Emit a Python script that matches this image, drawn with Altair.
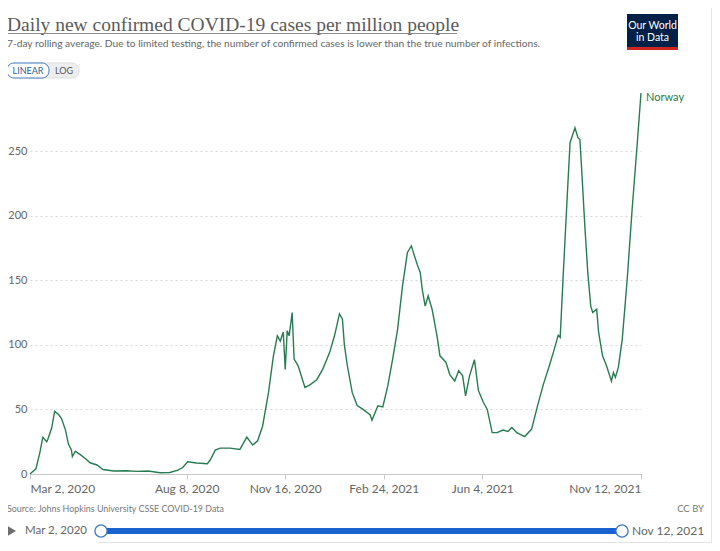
import altair as alt
import pandas as pd

# ---------------- data ----------------
dates = [
    "2020-03-02", "2020-03-08", "2020-03-12", "2020-03-15", "2020-03-19", "2020-03-20",
    "2020-03-24", "2020-03-27", "2020-03-31", "2020-04-03", "2020-04-07", "2020-04-10",
    "2020-04-13", "2020-04-14", "2020-04-17", "2020-04-22", "2020-04-27", "2020-05-02",
    "2020-05-09", "2020-05-15", "2020-05-26", "2020-06-08", "2020-06-18", "2020-06-30",
    "2020-07-12", "2020-07-22", "2020-07-30", "2020-08-04", "2020-08-09", "2020-08-18",
    "2020-08-29", "2020-09-01", "2020-09-06", "2020-09-11", "2020-09-21", "2020-10-01",
    "2020-10-08", "2020-10-14", "2020-10-19", "2020-10-24", "2020-10-30", "2020-11-04",
    "2020-11-08", "2020-11-11", "2020-11-14", "2020-11-16", "2020-11-18", "2020-11-20",
    "2020-11-23", "2020-11-25", "2020-11-29", "2020-12-06", "2020-12-11", "2020-12-18",
    "2020-12-24", "2020-12-31", "2021-01-05", "2021-01-10", "2021-01-13", "2021-01-15",
    "2021-01-18", "2021-01-23", "2021-01-28", "2021-02-03", "2021-02-10", "2021-02-12",
    "2021-02-18", "2021-02-23", "2021-02-28", "2021-03-05", "2021-03-10", "2021-03-15",
    "2021-03-20", "2021-03-24", "2021-03-26", "2021-03-30", "2021-04-02", "2021-04-04",
    "2021-04-07", "2021-04-10", "2021-04-14", "2021-04-19", "2021-04-22", "2021-04-28",
    "2021-05-02", "2021-05-07", "2021-05-11", "2021-05-15", "2021-05-18", "2021-05-22",
    "2021-05-27", "2021-05-31", "2021-06-05", "2021-06-09", "2021-06-14", "2021-06-19",
    "2021-06-25", "2021-06-30", "2021-07-04", "2021-07-09", "2021-07-17", "2021-07-24",
    "2021-07-30", "2021-08-05", "2021-08-11", "2021-08-15", "2021-08-20", "2021-08-22",
    "2021-08-25", "2021-08-29", "2021-09-01", "2021-09-06", "2021-09-09", "2021-09-11",
    "2021-09-13", "2021-09-16", "2021-09-19", "2021-09-22", "2021-09-24", "2021-09-28",
    "2021-09-30", "2021-10-04", "2021-10-08", "2021-10-13", "2021-10-15", "2021-10-17",
    "2021-10-20", "2021-10-24", "2021-10-29", "2021-11-03", "2021-11-08", "2021-11-12",
]
cases = [
    0, 4, 16.6, 28.5, 25, 26.7,
    35.6, 48.6, 46, 43, 34, 23.2,
    18.6, 13.5, 17.6, 15, 12, 8.7,
    7, 3.5, 2.3, 2.5, 2, 2.3,
    1, 1.2, 3, 5, 9.5, 8.5,
    8, 11, 18.5, 20, 20, 19,
    28.6, 22.4, 25.7, 37, 63, 91.5,
    107, 103, 110, 81, 111, 107,
    125, 89, 84, 67, 69, 73,
    81, 94, 107, 124, 120, 100,
    84, 63, 53, 50, 46, 41.6,
    52.8, 52, 68, 89, 112, 145.6,
    171.6, 176.6, 171.6, 162, 156, 143,
    130, 138, 127.6, 107, 91.5, 86.6,
    77, 72, 80, 76, 60.5, 76,
    88.5, 64.7, 55.5, 50, 32, 32,
    34, 33, 36, 32, 29, 34.8,
    52.8, 69.6, 83.8, 94, 107.5, 105.7,
    153, 212.7, 256.5, 268, 260.4, 259,
    233, 192, 156, 130, 125, 127.6,
    109.6, 91.5, 83.8, 72, 78.6, 74.8,
    82.5, 104.4, 150.8, 205, 254, 295,
]
country = "Norway"
y_ticks = [0, 50, 100, 150, 200, 250]
x_tick_dates = ["2020-03-02", "2020-08-08", "2020-11-16", "2021-02-24", "2021-06-04", "2021-11-12"]

title_text = "Daily new confirmed COVID-19 cases per million people"
subtitle_text = ("7-day rolling average. Due to limited testing, the number of confirmed cases "
                 "is lower than the true number of infections.")
source_text = "Source: Johns Hopkins University CSSE COVID-19 Data"

# ---------------- styles ----------------
GREEN = "#277c52"
GREY = "#666666"
BLUE = "#1a62d0"
SANS = "Lato"
W, H = 611, 381

df = pd.DataFrame({"date": pd.to_datetime(dates), "cases": cases, "country": country})


def dt(s):
    t = pd.Timestamp(s)
    return alt.DateTime(year=t.year, month=t.month, date=t.day)


x_enc = alt.X(
    "date:T",
    scale=alt.Scale(domain=[dt(x_tick_dates[0]), dt(x_tick_dates[-1])]),
    axis=alt.Axis(
        values=[dt(s) for s in x_tick_dates],
        format="%b %-d, %Y",
        title=None,
        grid=False,
        labelFlush=True,
        labelOverlap=False,
        labelFont=SANS,
        labelFontSize=12,
        labelColor=GREY,
        labelPadding=4,
        domainColor="#c8c8c8",
        tickColor="#c8c8c8",
        tickSize=5,
    ),
)
y_enc = alt.Y(
    "cases:Q",
    scale=alt.Scale(domain=[0, 295], nice=False),
    axis=alt.Axis(
        values=y_ticks,
        title=None,
        domain=False,
        ticks=False,
        labelPadding=3,
        labelFont=SANS,
        labelFontSize=11,
        labelColor=GREY,
        grid=True,
        gridDash=[2, 3],
        gridColor="#d6d6d6",
    ),
)

line = alt.Chart(df).mark_line(color=GREEN, strokeWidth=1.4).encode(x=x_enc, y=y_enc)

label = alt.Chart(df.tail(1)).mark_text(
    align="left", dx=5, dy=5, font=SANS, fontSize=11, color=GREEN
).encode(x="date:T", y="cases:Q", text="country:N")

one = pd.DataFrame({"k": [0]})


def txt(text, x, y, **kw):
    return alt.Chart(one).mark_text(text=text, **kw).encode(x=alt.value(x), y=alt.value(y))


def box(x, x2, y, y2, **kw):
    return alt.Chart(one).mark_rect(**kw).encode(
        x=alt.value(x), x2=alt.value(x2), y=alt.value(y), y2=alt.value(y2)
    )


def rule(x, x2, y, y2, **kw):
    return alt.Chart(one).mark_rule(**kw).encode(
        x=alt.value(x), x2=alt.value(x2), y=alt.value(y), y2=alt.value(y2)
    )


decor = [
    # title + underline
    txt(title_text, -23, -62, align="left", baseline="alphabetic",
        font="Liberation Serif", fontSize=19.5, color="#5b5b5b"),
    rule(-23, 427, -59.5, -59.5, color="#8a8a8a", strokeWidth=1),
    txt(subtitle_text, -23, -46, align="left", baseline="alphabetic",
        font=SANS, fontSize=10.2, color=GREY),
    # LINEAR / LOG buttons
    box(-5, 49, -30, -15, fill="#eeeeee", stroke="#dddddd", cornerRadius=7),
    box(-23, 19, -30, -15, fill="white", stroke="#3c78c0", strokeWidth=1, cornerRadius=7),
    txt("LINEAR", -2, -22.5, align="center", baseline="middle", font=SANS, fontSize=9, color="#2f5d99"),
    txt("LOG", 34, -22.5, align="center", baseline="middle", font=SANS, fontSize=9, color="#555555"),
    # OWID logo
    box(597, 648, -79, -43, fill="#002147"),
    box(597, 648, -46, -43, fill="#ce261e"),
    txt("Our World", 622.5, -67, align="center", baseline="middle", font=SANS, fontSize=10.5, color="white"),
    txt("in Data", 622.5, -55, align="center", baseline="middle", font=SANS, fontSize=10.5, color="white"),
    # footer
    txt(source_text, -23, 416, align="left", baseline="middle", font=SANS, fontSize=8.9, color="#777777"),
    txt("CC BY", 674, 416, align="right", baseline="middle", font=SANS, fontSize=9.5, color="#777777"),
    # timeline slider
    alt.Chart(one).mark_point(shape="triangle-right", filled=True, size=110, color="#6e6e6e",
                              opacity=1).encode(x=alt.value(-18.5), y=alt.value(438)),
    txt("Mar 2, 2020", -5, 438, align="left", baseline="middle", font=SANS, fontSize=11.5, color=GREY),
    rule(71, 592, 438, 438, color=BLUE, strokeWidth=6),
    alt.Chart(one).mark_point(shape="circle", filled=True, size=150, fill="white", stroke="#3c78c0",
                              strokeWidth=1.3, opacity=1).encode(x=alt.value(71), y=alt.value(438)),
    alt.Chart(one).mark_point(shape="circle", filled=True, size=150, fill="white", stroke="#3c78c0",
                              strokeWidth=1.3, opacity=1).encode(x=alt.value(592), y=alt.value(438)),
    txt("Nov 12, 2021", 602, 438, align="left", baseline="middle", font=SANS, fontSize=12, color=GREY),
    # frame / bottom tabs line
    rule(68, 682, 449.5, 449.5, color="#e2e2e2", strokeWidth=1),
    rule(681.5, 681.5, -93, 450, color="#e6e6e6", strokeWidth=1),
]

chart = alt.layer(line, label, *decor).properties(
    width=W,
    height=H,
    autosize=alt.AutoSizeParams(type="none"),
    padding={"left": 22, "top": 85, "right": 71, "bottom": 69},
).configure_view(stroke=None)

chart.save("out.html", embed_options={"renderer": "svg", "actions": False})
